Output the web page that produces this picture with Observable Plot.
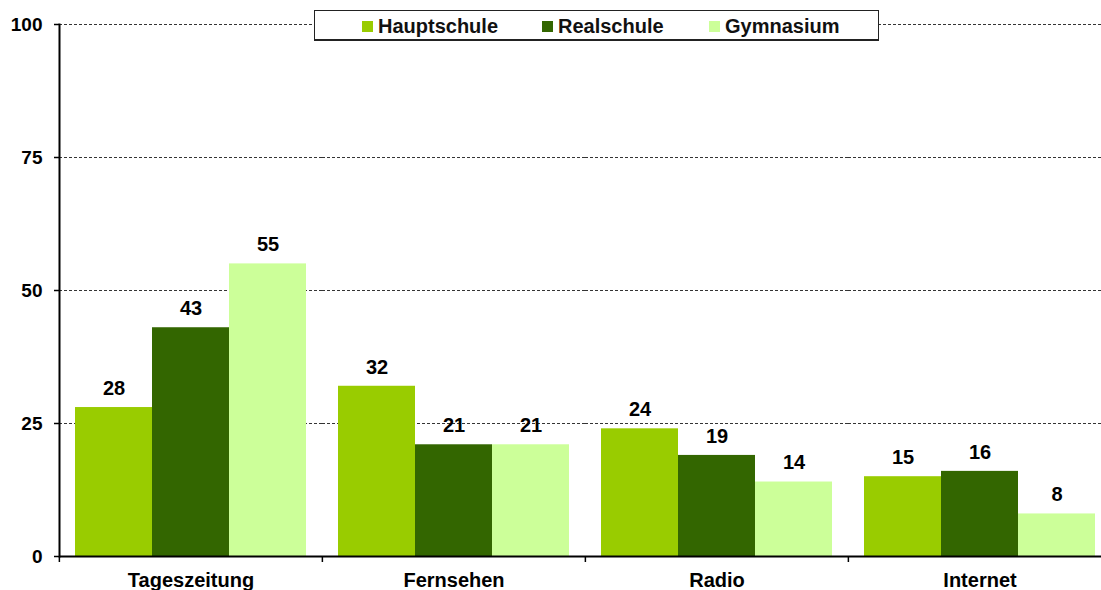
<!DOCTYPE html>
<html>
<head>
<meta charset="utf-8">
<script src="https://cdn.jsdelivr.net/npm/d3@7"></script>
<script src="https://cdn.jsdelivr.net/npm/@observablehq/plot@0.6"></script>
<style>
  body { margin: 0; background: #fff; font-family: "Liberation Sans", Arial, sans-serif; }
  #wrap { position: relative; width: 1101px; height: 590px; overflow: hidden; }
  #legend { position: absolute; left: 314px; top: 10px; width: 563px; height: 28px;
            border: 1.5px solid #222; border-bottom-width: 2px; background: #fff; font-weight: bold; font-size: 20px; color: #111; }
  .item { position: absolute; top: 0; height: 30px; display: flex; align-items: center; white-space: nowrap; }
  .sw { width: 11px; height: 11px; margin-right: 5px; }
</style>
</head>
<body>
<div id="wrap"><div id="legend"></div></div>
<script>
const categories = ["Tageszeitung", "Fernsehen", "Radio", "Internet"];
const schools = ["Hauptschule", "Realschule", "Gymnasium"];
const hauptschule = [28, 32, 24, 15];
const realschule = [43, 21, 19, 16];
const gymnasium = [55, 21, 14, 8];
const colors = ["#99cc00", "#336600", "#ccff99"];
const yTicks = [0, 25, 50, 75, 100];

const series = [hauptschule, realschule, gymnasium];
const data = categories.flatMap((c, i) =>
  schools.map((s, j) => ({category: c, school: s, value: series[j][i]})));

const W = 1101, ML = 58, MR = -10;
const facetStep = (W - ML - MR) / categories.length;

const chart = Plot.plot({
  width: W, height: 590,
  marginLeft: ML, marginRight: MR, marginTop: 24, marginBottom: 34,
  style: {fontFamily: '"Liberation Sans", Arial, sans-serif', fontWeight: "bold", fontSize: "19px", color: "#000", background: "transparent"},
  fx: {domain: categories, padding: 0, label: null},
  x: {domain: schools, paddingInner: 0, paddingOuter: 0.2, axis: null},
  y: {domain: [0, 100]},
  color: {domain: schools, range: colors},
  marks: [
    Plot.gridY(yTicks.filter(d => d > 0), {stroke: "#000", strokeOpacity: 1, strokeDasharray: "3,2", strokeWidth: 0.8}),
    Plot.barY(data, {fx: "category", x: "school", y: "value", fill: "school"}),
    Plot.text(data, {fx: "category", x: "school", y: "value", text: "value", dy: -19, fontSize: 20, fontWeight: "bold", fill: "#000"}),
    Plot.ruleY([0], {stroke: "#000", strokeWidth: 2}),
    Plot.axisY(yTicks, {tickSize: 5, tickPadding: 12, label: null, fontSize: 19, fontWeight: "bold", stroke: "#000", strokeWidth: 1.5}),
    Plot.frame({anchor: "left", facetAnchor: "left", stroke: "#000", strokeWidth: 2}),
    Plot.axisFx({anchor: "bottom", tickSize: 6, tickFormat: () => "", label: null, dx: -facetStep / 2, stroke: "#000", strokeWidth: 1.5}),
    Plot.axisFx({anchor: "bottom", tickSize: 0, tickPadding: 16, label: null, fontSize: 20, fontWeight: "bold"})
  ]
});
document.getElementById("wrap").prepend(chart);

const legendX = [47, 227, 394];
const legend = document.getElementById("legend");
schools.forEach((s, i) => {
  const it = document.createElement("div");
  it.className = "item";
  it.style.left = legendX[i] + "px";
  const sw = document.createElement("span");
  sw.className = "sw";
  sw.style.background = colors[i];
  const t = document.createElement("span");
  t.textContent = s;
  it.append(sw, t);
  legend.append(it);
});
</script>
</body>
</html>
